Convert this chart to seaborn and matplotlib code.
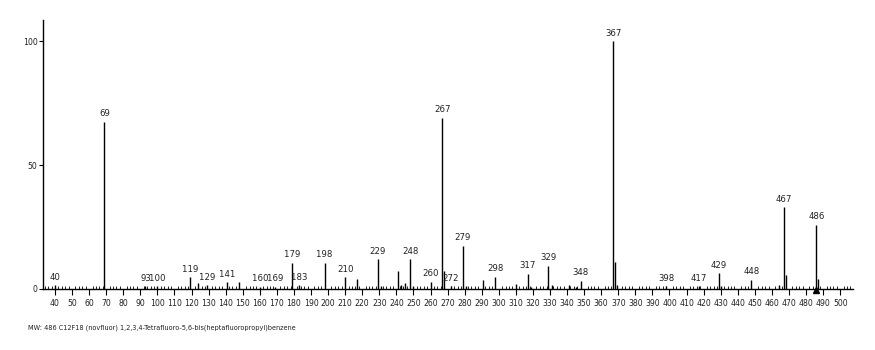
import matplotlib
matplotlib.use("Agg")
import matplotlib.pyplot as plt
from matplotlib.ticker import MultipleLocator
from matplotlib import font_manager as fm
import seaborn as sns

# ---- data ----
mz = [40, 69, 93, 100, 119, 124, 129, 141, 148, 160, 169, 179, 183, 198, 210,
      217, 229, 231, 241, 243, 245, 248, 250, 260, 267, 268, 272, 279, 281, 291,
      298, 310, 317, 319, 329, 331, 341, 345, 348, 367, 368, 369, 398, 417, 429,
      430, 448, 464, 467, 468, 486, 487]
intensity = [1.5, 67.5, 1.2, 1.2, 4.8, 2.4, 1.5, 2.8, 2.8, 1.0, 1.0, 10.5, 1.5,
             10.5, 4.8, 4.0, 12.0, 1.2, 7.3, 1.5, 2.5, 12.0, 1.2, 3.0, 69.0, 7.4,
             1.2, 17.5, 1.2, 3.6, 5.0, 2.0, 6.2, 1.0, 9.4, 1.5, 1.8, 1.0, 3.4,
             100.0, 11.0, 1.5, 1.2, 1.2, 6.4, 1.2, 3.8, 1.8, 33.0, 5.8, 26.0, 4.0]
labeled_mz = [40, 69, 93, 100, 119, 129, 141, 160, 169, 179, 183, 198, 210, 229,
              248, 260, 267, 272, 279, 298, 317, 329, 348, 367, 398, 417, 429,
              448, 467, 486]
molecular_ion = [486]
x_ticks = list(range(40, 501, 10))
y_ticks = [0, 50, 100]
caption = "MW: 486 C12F18 (novfluor) 1,2,3,4-Tetrafluoro-5,6-bis(heptafluoropropyl)benzene"

sns.set_style("ticks")

# look for a narrow / condensed sans face among the installed fonts
narrow = None
for f in fm.fontManager.ttflist:
    nm = f.name.lower()
    fn = f.fname.lower()
    if (("narrow" in nm or "condensed" in nm or "narrow" in fn or "condensed" in fn
         or f.stretch in ("condensed", "semi-condensed", "extra-condensed"))
            and f.style == "normal" and f.weight in (400, "normal", "regular")
            and "mono" not in nm and "serif" not in nm.replace("sans", "")):
        narrow = f.fname
        break

if narrow:
    TP = fm.FontProperties(fname=narrow)
    tick_fs, lab_fs, cap_fs = 6.2, 6.8, 5.2
else:
    TP = fm.FontProperties(family="Liberation Sans")
    tick_fs, lab_fs, cap_fs = 6.0, 6.5, 5.0
plt.rcParams["font.family"] = ["Liberation Sans", "DejaVu Sans"]

fig = plt.figure(figsize=(8.75, 3.5), dpi=100)
ax = fig.add_axes([43 / 875, 61 / 350, (853 - 43) / 875, (289 - 20) / 350])

ax.vlines(mz, 0, intensity, colors="black", linewidth=1.0)

lookup = dict(zip(mz, intensity))
for m in labeled_mz:
    ax.annotate(str(m), (m, lookup[m]), xytext=(0, 2.5), textcoords="offset points",
                ha="center", va="bottom", fontproperties=TP, fontsize=lab_fs,
                color="#222222")

ax.plot(molecular_ion, [-0.6] * len(molecular_ion), marker="^", color="black",
        markersize=5, linestyle="none", clip_on=False, zorder=5)

ax.set_xlim(33, 507.5)
ax.set_ylim(0, 108.5)
ax.set_xticks(x_ticks)
ax.set_xticklabels([str(t) for t in x_ticks])
ax.xaxis.set_minor_locator(MultipleLocator(2))
ax.set_yticks(y_ticks)
ax.set_yticklabels([str(t) for t in y_ticks])
for lab in ax.get_xticklabels() + ax.get_yticklabels():
    lab.set_fontproperties(TP)
    lab.set_fontsize(tick_fs)

sns.despine(ax=ax)
for s in ("left", "bottom"):
    ax.spines[s].set_linewidth(1.0)
    ax.spines[s].set_color("black")

ax.tick_params(axis="x", which="major", direction="out", length=4, width=0.8,
               pad=3, colors="black", labelcolor="#222222")
ax.tick_params(axis="x", which="minor", direction="in", length=2.5, width=0.6,
               colors="black")
ax.tick_params(axis="y", which="major", direction="out", length=3, width=0.8,
               pad=1, colors="black", labelcolor="#222222")
ax.grid(False)

fig.text(28 / 875, 1 - 328 / 350, caption, fontproperties=TP, fontsize=cap_fs,
         ha="left", va="center", color="#222222")

fig.savefig("out.png", dpi=100, facecolor="white")
